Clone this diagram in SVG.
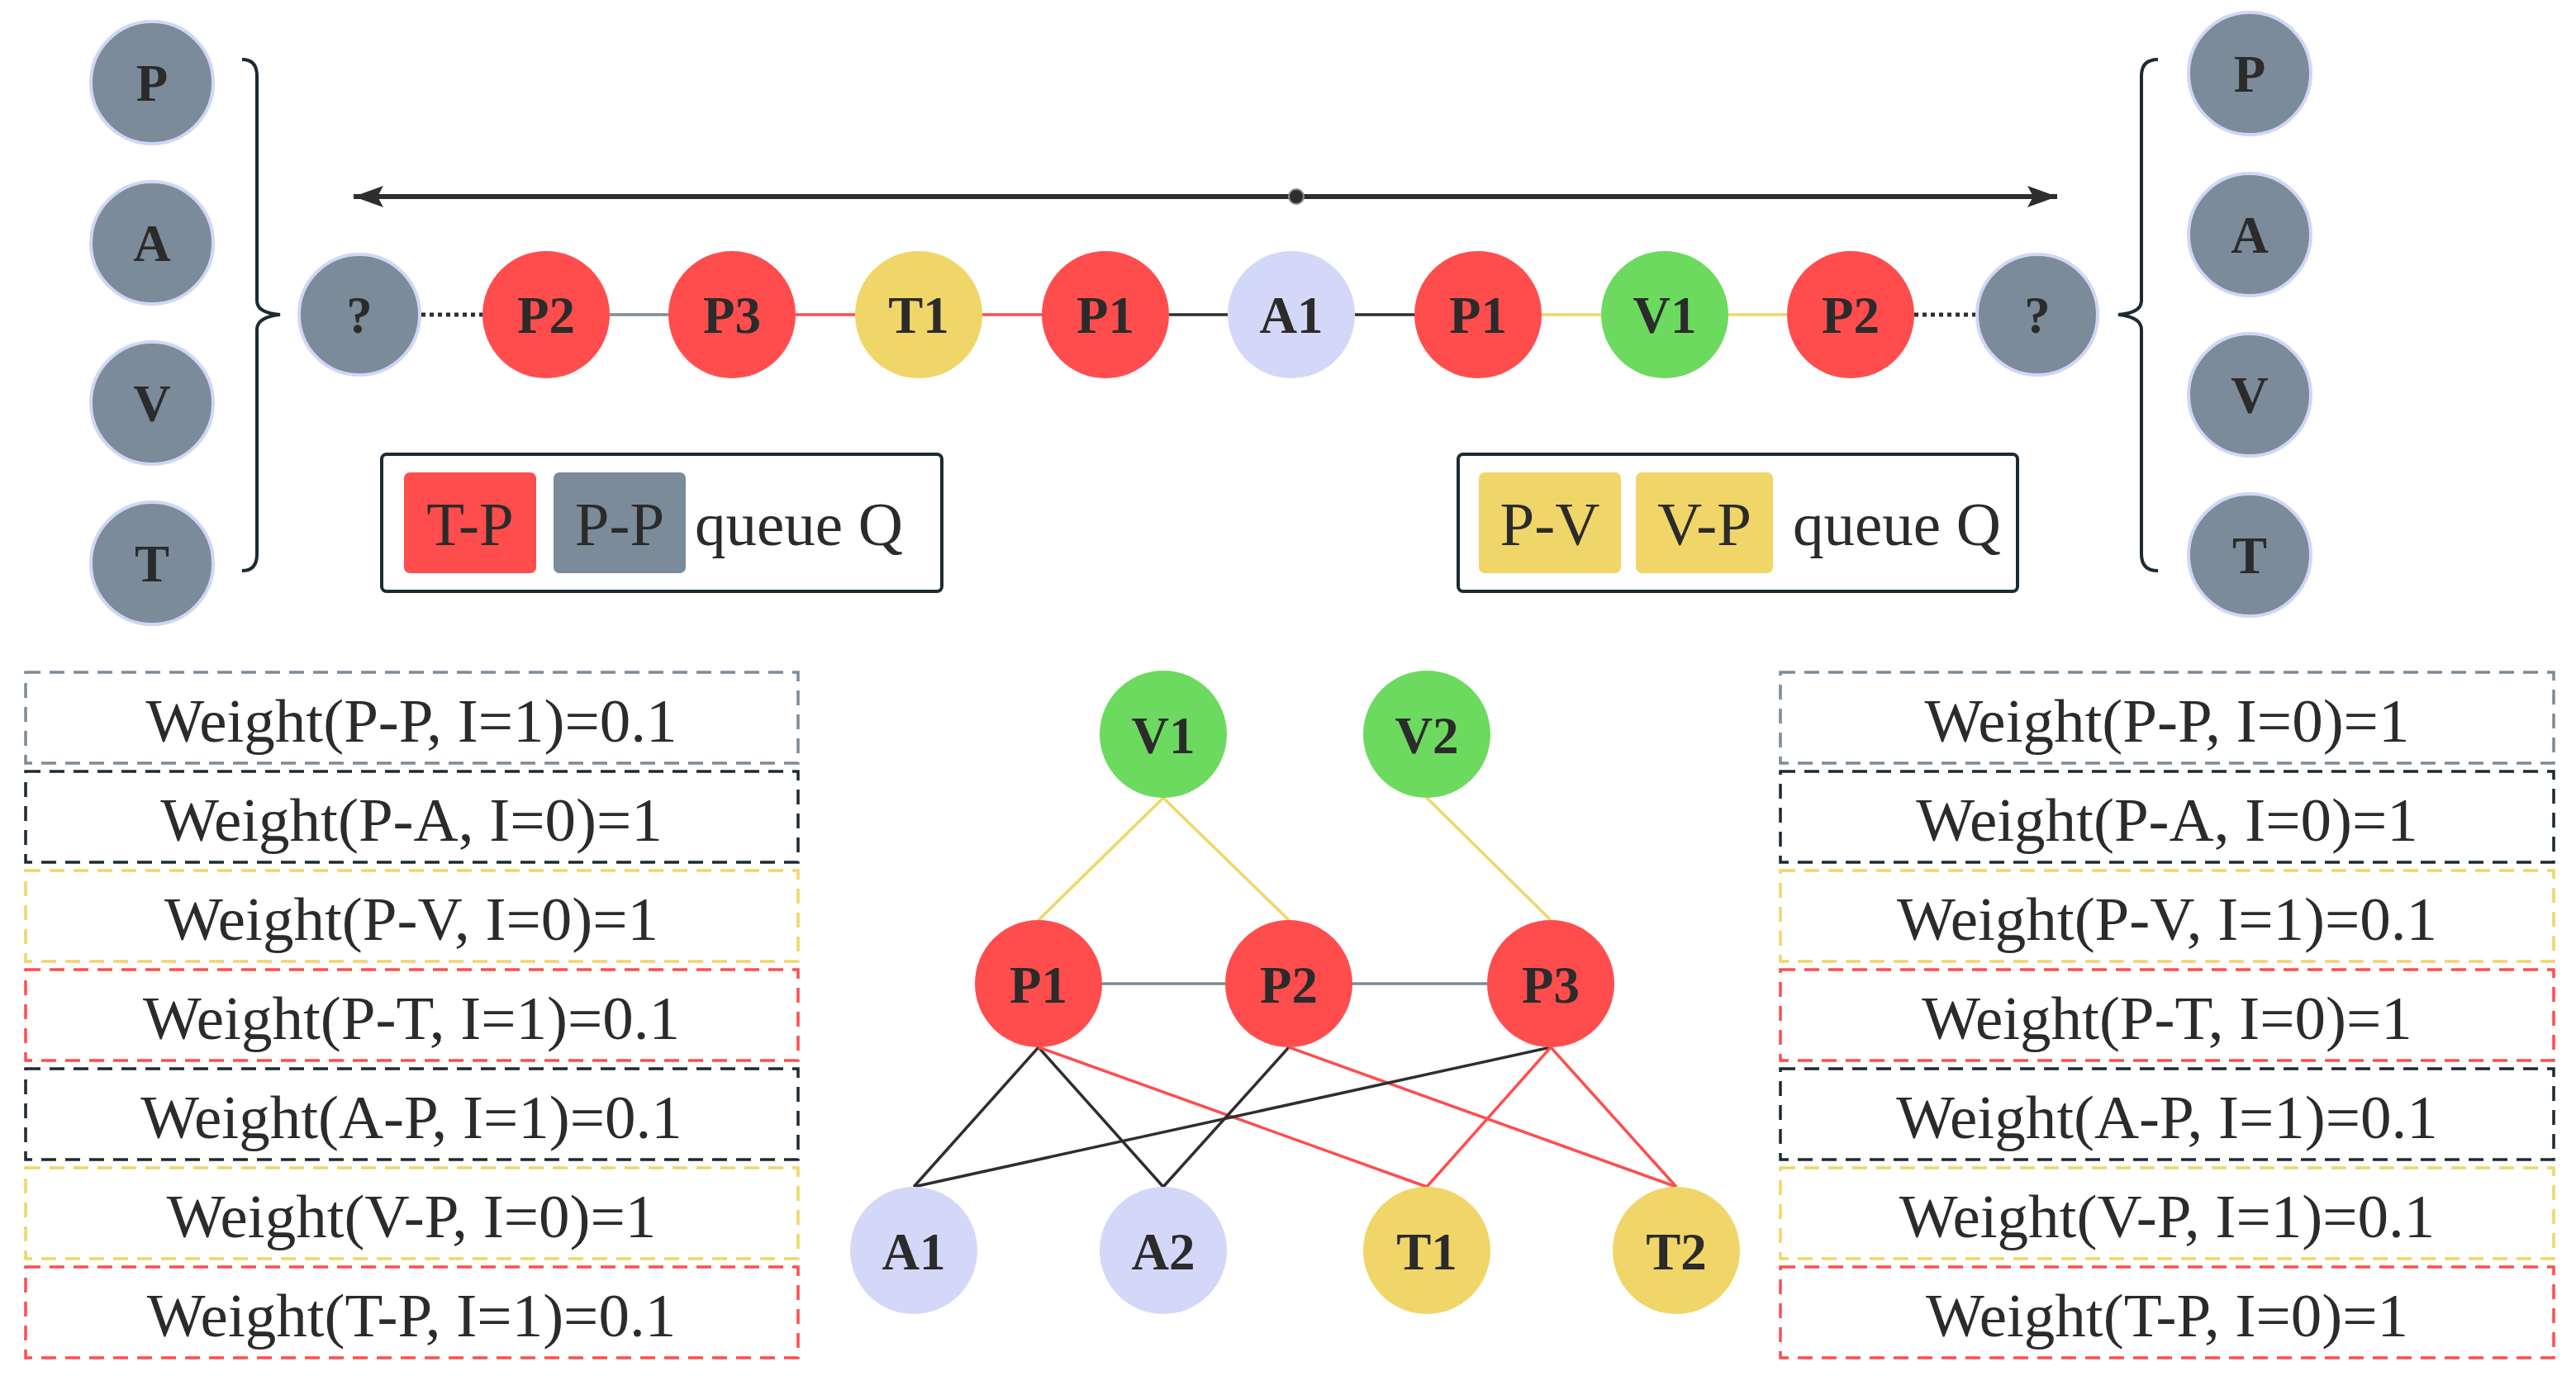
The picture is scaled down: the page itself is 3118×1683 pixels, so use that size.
<svg xmlns="http://www.w3.org/2000/svg" width="3118" height="1683" viewBox="0 0 3118 1683">
<defs>
<style>
.lbl{font-family:"Liberation Serif","Times New Roman",serif;font-weight:bold;font-size:63px;fill:#2B2B2B;text-anchor:middle}
.txt{font-family:"Liberation Serif","Times New Roman",serif;font-size:75px;fill:#2B2B2B;text-anchor:middle}
.leg{font-family:"Liberation Serif","Times New Roman",serif;font-size:75px;fill:#2B2B2B;text-anchor:middle}
.gray{fill:#7B8B99;stroke:#D0D6F7;stroke-width:4}
.red{fill:#FF4D4D}
.yel{fill:#F0D668}
.grn{fill:#6CDA5F}
.lav{fill:#D3D8F8}
.e{fill:none;stroke-width:3.5}
.ek{stroke:#2E2E2E}
.eg{stroke:#7B8B99}
.er{stroke:#FF4D4D}
.ey{stroke:#F0D668}
.dot{stroke:#2E2E2E;stroke-dasharray:5 5;stroke-width:5;fill:none}
.brace{fill:none;stroke:#1C2A33;stroke-width:4}
.wb{fill:none;stroke-width:3.5;stroke-dasharray:18 11}
.legbox{fill:#FFFFFF;stroke:#1C2A33;stroke-width:4}
</style>
</defs>
<rect width="3118" height="1683" fill="#FFFFFF"/>

<!-- connectors -->
<g id="connectors">
<line x1="428" y1="238" x2="2490" y2="238" stroke="#2E2E2E" stroke-width="6"/>
<polygon points="428,238 464,225 457,238 464,251" fill="#2E2E2E"/>
<polygon points="2490,238 2454,225 2461,238 2454,251" fill="#2E2E2E"/>
<circle cx="1569" cy="238" r="9" fill="#2E2E2E" stroke="#8A8A8A" stroke-width="2"/>
<path class="brace" d="M293 72 Q311 72 311 92 L311 364 Q311 379 339 381 Q311 384 311 399 L311 671 Q311 691 293 691"/>
<path class="brace" d="M2612 72 Q2592 72 2592 92 L2592 364 Q2592 379 2564 381 Q2592 384 2592 399 L2592 671 Q2592 691 2612 691"/>
<line class="dot" x1="510" y1="381" x2="584" y2="381"/>
<line class="e eg" x1="738" y1="381" x2="809" y2="381"/>
<line class="e er" x1="963" y1="381" x2="1035" y2="381"/>
<line class="e er" x1="1189" y1="381" x2="1261" y2="381"/>
<line class="e ek" x1="1415" y1="381" x2="1486" y2="381"/>
<line class="e ek" x1="1640" y1="381" x2="1712" y2="381"/>
<line class="e ey" x1="1866" y1="381" x2="1938" y2="381"/>
<line class="e ey" x1="2092" y1="381" x2="2163" y2="381"/>
<line class="dot" x1="2317" y1="381" x2="2391" y2="381"/>
<line class="e ey" x1="1408" y1="966" x2="1257" y2="1114"/>
<line class="e ey" x1="1408" y1="966" x2="1560" y2="1114"/>
<line class="e ey" x1="1727" y1="966" x2="1877" y2="1114"/>
<line class="e eg" x1="1334" y1="1191" x2="1483" y2="1191"/>
<line class="e eg" x1="1637" y1="1191" x2="1800" y2="1191"/>
<line class="e ek" x1="1257" y1="1268" x2="1106" y2="1437"/>
<line class="e ek" x1="1257" y1="1268" x2="1408" y2="1437"/>
<line class="e er" x1="1257" y1="1268" x2="1727" y2="1437"/>
<line class="e ek" x1="1560" y1="1268" x2="1408" y2="1437"/>
<line class="e er" x1="1560" y1="1268" x2="2029" y2="1437"/>
<line class="e ek" x1="1877" y1="1268" x2="1106" y2="1437" stroke-width="4.5"/>
<line class="e er" x1="1877" y1="1268" x2="1727" y2="1437"/>
<line class="e er" x1="1877" y1="1268" x2="2029" y2="1437"/>
</g>

<!-- left type column -->
<g id="left-P"><circle class="gray" cx="184" cy="100" r="74"/><text class="lbl" x="184" y="122">P</text></g>
<g id="left-A"><circle class="gray" cx="184" cy="294" r="74"/><text class="lbl" x="184" y="316">A</text></g>
<g id="left-V"><circle class="gray" cx="184" cy="488" r="74"/><text class="lbl" x="184" y="510">V</text></g>
<g id="left-T"><circle class="gray" cx="184" cy="682" r="74"/><text class="lbl" x="184" y="704">T</text></g>

<!-- right type column -->
<g id="right-P"><circle class="gray" cx="2723" cy="89" r="74"/><text class="lbl" x="2723" y="111">P</text></g>
<g id="right-A"><circle class="gray" cx="2723" cy="284" r="74"/><text class="lbl" x="2723" y="306">A</text></g>
<g id="right-V"><circle class="gray" cx="2723" cy="478" r="74"/><text class="lbl" x="2723" y="500">V</text></g>
<g id="right-T"><circle class="gray" cx="2723" cy="672" r="74"/><text class="lbl" x="2723" y="694">T</text></g>

<!-- sequence -->
<g id="seq-q1"><circle class="gray" cx="435" cy="381" r="73"/><text class="lbl" x="435" y="403">?</text></g>
<g id="seq-P2a"><circle class="red" cx="661" cy="381" r="77"/><text class="lbl" x="661" y="403">P2</text></g>
<g id="seq-P3"><circle class="red" cx="886" cy="381" r="77"/><text class="lbl" x="886" y="403">P3</text></g>
<g id="seq-T1"><circle class="yel" cx="1112" cy="381" r="77"/><text class="lbl" x="1112" y="403">T1</text></g>
<g id="seq-P1a"><circle class="red" cx="1338" cy="381" r="77"/><text class="lbl" x="1338" y="403">P1</text></g>
<g id="seq-A1"><circle class="lav" cx="1563" cy="381" r="77"/><text class="lbl" x="1563" y="403">A1</text></g>
<g id="seq-P1b"><circle class="red" cx="1789" cy="381" r="77"/><text class="lbl" x="1789" y="403">P1</text></g>
<g id="seq-V1"><circle class="grn" cx="2015" cy="381" r="77"/><text class="lbl" x="2015" y="403">V1</text></g>
<g id="seq-P2b"><circle class="red" cx="2240" cy="381" r="77"/><text class="lbl" x="2240" y="403">P2</text></g>
<g id="seq-q2"><circle class="gray" cx="2466" cy="381" r="73"/><text class="lbl" x="2466" y="403">?</text></g>

<!-- legends -->
<g id="legend-left">
<rect class="legbox" x="462" y="550" width="678" height="166" rx="6"/>
<rect x="489" y="572" width="160" height="122" rx="7" fill="#FF4D4D"/>
<rect x="670" y="572" width="160" height="122" rx="7" fill="#7B8B99"/>
<text class="leg" x="569" y="660">T-P</text>
<text class="leg" x="750" y="660">P-P</text>
<text class="leg" x="967" y="660">queue Q</text>
</g>
<g id="legend-right">
<rect class="legbox" x="1765" y="550" width="677" height="166" rx="6"/>
<rect x="1790" y="572" width="172" height="122" rx="7" fill="#F0D668"/>
<rect x="1980" y="572" width="166" height="122" rx="7" fill="#F0D668"/>
<text class="leg" x="1876" y="660">P-V</text>
<text class="leg" x="2063" y="660">V-P</text>
<text class="leg" x="2296" y="660">queue Q</text>
</g>

<!-- left weights -->
<g id="wl1"><rect class="wb" x="31" y="814" width="935" height="110" stroke="#7B8B99"/><text class="txt" x="498" y="898">Weight(P-P, I=1)=0.1</text></g>
<g id="wl2"><rect class="wb" x="31" y="934" width="935" height="110" stroke="#1C2A33"/><text class="txt" x="498" y="1018">Weight(P-A, I=0)=1</text></g>
<g id="wl3"><rect class="wb" x="31" y="1054" width="935" height="110" stroke="#F0D668"/><text class="txt" x="498" y="1138">Weight(P-V, I=0)=1</text></g>
<g id="wl4"><rect class="wb" x="31" y="1174" width="935" height="110" stroke="#FF4D4D"/><text class="txt" x="498" y="1258">Weight(P-T, I=1)=0.1</text></g>
<g id="wl5"><rect class="wb" x="31" y="1294" width="935" height="110" stroke="#1C2A33"/><text class="txt" x="498" y="1378">Weight(A-P, I=1)=0.1</text></g>
<g id="wl6"><rect class="wb" x="31" y="1414" width="935" height="110" stroke="#F0D668"/><text class="txt" x="498" y="1498">Weight(V-P, I=0)=1</text></g>
<g id="wl7"><rect class="wb" x="31" y="1534" width="935" height="110" stroke="#FF4D4D"/><text class="txt" x="498" y="1618">Weight(T-P, I=1)=0.1</text></g>

<!-- right weights -->
<g id="wr1"><rect class="wb" x="2155" y="814" width="936" height="110" stroke="#7B8B99"/><text class="txt" x="2623" y="898">Weight(P-P, I=0)=1</text></g>
<g id="wr2"><rect class="wb" x="2155" y="934" width="936" height="110" stroke="#1C2A33"/><text class="txt" x="2623" y="1018">Weight(P-A, I=0)=1</text></g>
<g id="wr3"><rect class="wb" x="2155" y="1054" width="936" height="110" stroke="#F0D668"/><text class="txt" x="2623" y="1138">Weight(P-V, I=1)=0.1</text></g>
<g id="wr4"><rect class="wb" x="2155" y="1174" width="936" height="110" stroke="#FF4D4D"/><text class="txt" x="2623" y="1258">Weight(P-T, I=0)=1</text></g>
<g id="wr5"><rect class="wb" x="2155" y="1294" width="936" height="110" stroke="#1C2A33"/><text class="txt" x="2623" y="1378">Weight(A-P, I=1)=0.1</text></g>
<g id="wr6"><rect class="wb" x="2155" y="1414" width="936" height="110" stroke="#F0D668"/><text class="txt" x="2623" y="1498">Weight(V-P, I=1)=0.1</text></g>
<g id="wr7"><rect class="wb" x="2155" y="1534" width="936" height="110" stroke="#FF4D4D"/><text class="txt" x="2623" y="1618">Weight(T-P, I=0)=1</text></g>

<!-- graph -->
<g id="g-V1"><circle class="grn" cx="1408" cy="889" r="77"/><text class="lbl" x="1408" y="912">V1</text></g>
<g id="g-V2"><circle class="grn" cx="1727" cy="889" r="77"/><text class="lbl" x="1727" y="912">V2</text></g>
<g id="g-P1"><circle class="red" cx="1257" cy="1191" r="77"/><text class="lbl" x="1257" y="1214">P1</text></g>
<g id="g-P2"><circle class="red" cx="1560" cy="1191" r="77"/><text class="lbl" x="1560" y="1214">P2</text></g>
<g id="g-P3"><circle class="red" cx="1877" cy="1191" r="77"/><text class="lbl" x="1877" y="1214">P3</text></g>
<g id="g-A1"><circle class="lav" cx="1106" cy="1514" r="77"/><text class="lbl" x="1106" y="1537">A1</text></g>
<g id="g-A2"><circle class="lav" cx="1408" cy="1514" r="77"/><text class="lbl" x="1408" y="1537">A2</text></g>
<g id="g-T1"><circle class="yel" cx="1727" cy="1514" r="77"/><text class="lbl" x="1727" y="1537">T1</text></g>
<g id="g-T2"><circle class="yel" cx="2029" cy="1514" r="77"/><text class="lbl" x="2029" y="1537">T2</text></g>
</svg>
